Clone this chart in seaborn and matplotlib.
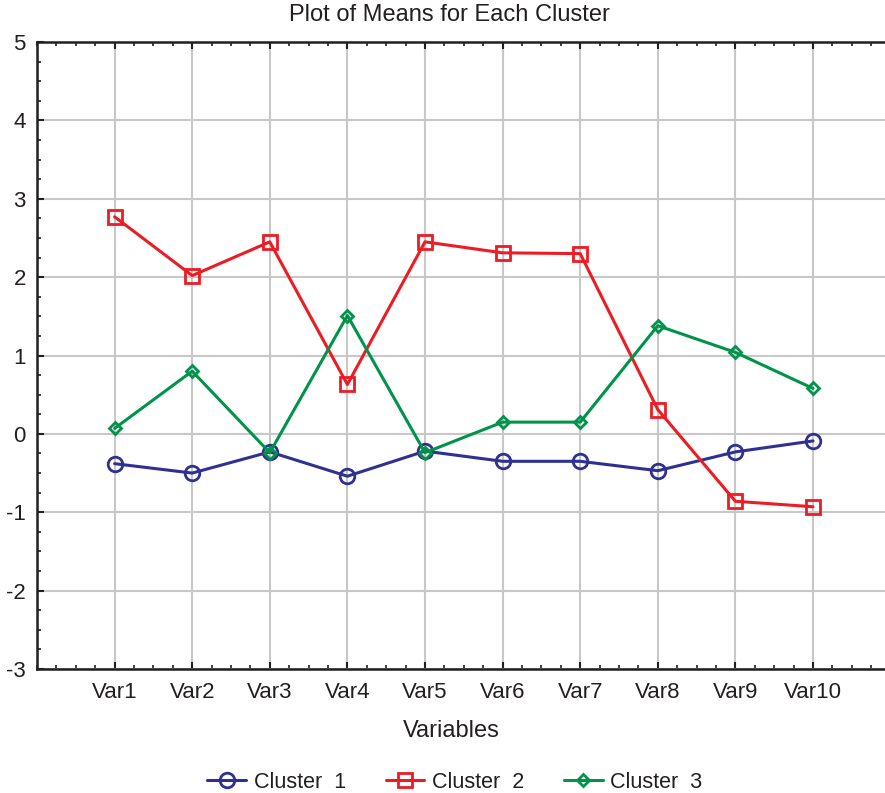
import matplotlib
matplotlib.use("Agg")
import matplotlib.pyplot as plt
from matplotlib.ticker import MultipleLocator
import seaborn as sns

variables = ["Var1", "Var2", "Var3", "Var4", "Var5", "Var6", "Var7", "Var8", "Var9", "Var10"]
cluster1 = [-0.38, -0.50, -0.23, -0.54, -0.22, -0.35, -0.35, -0.47, -0.23, -0.09]
cluster2 = [2.77, 2.02, 2.45, 0.63, 2.45, 2.31, 2.30, 0.31, -0.86, -0.93]
cluster3 = [0.07, 0.80, -0.24, 1.51, -0.24, 0.15, 0.15, 1.38, 1.04, 0.58]
cluster_names = ["Cluster  1", "Cluster  2", "Cluster  3"]
y_ticks = [-3, -2, -1, 0, 1, 2, 3, 4, 5]

sns.set_theme(style="white")
plt.rcParams["font.family"] = ["Liberation Sans", "DejaVu Sans"]

fig = plt.figure(figsize=(8.85, 7.93), dpi=100)
ax = fig.add_axes([37 / 885, 1 - 669 / 793, 853.6 / 885, (669 - 42) / 793])

series = [cluster1, cluster2, cluster3]
colors = ["#2E3192", "#ED1C24", "#00934A"]
markers = ["o", "s", "D"]
msizes = [10.5, 10, 6.5]

for vals, name, col, mk, ms in zip(series, cluster_names, colors, markers, msizes):
    sns.lineplot(x=variables, y=vals, ax=ax, color=col, marker=mk,
                 markersize=ms, markerfacecolor="none", markeredgecolor=col,
                 markeredgewidth=2, linewidth=2.2, label=name, zorder=3)

ax.set_xlim(-1, 10)
ax.set_ylim(-3, 5)
ax.yaxis.set_minor_locator(MultipleLocator(0.25))
ax.xaxis.set_minor_locator(MultipleLocator(0.25))
ax.set_yticks(y_ticks)
ax.set_yticklabels([str(v) for v in y_ticks])

ax.grid(True, which="major", color="#C8C8C8", linewidth=1.5, zorder=0)
ax.set_axisbelow(True)

for side in ["left", "bottom", "top"]:
    ax.spines[side].set_visible(True)
    ax.spines[side].set_color("#231F20")
    ax.spines[side].set_linewidth(1.8)
ax.spines["right"].set_visible(False)

ax.tick_params(axis="both", which="both", direction="in", colors="#231F20",
               labelcolor="#231F20", labelsize=16)
ax.tick_params(axis="x", which="both", top=True, bottom=True, pad=9)
ax.tick_params(axis="y", which="both", left=True, right=False, pad=8)
ax.tick_params(which="major", length=5, width=1.5)
ax.tick_params(which="minor", length=3, width=1.2)

ax.set_xlabel("")
ax.set_ylabel("")
# Title and axis label are centred on the visible plot region
fig.text(449 / 885, 1 - 15 / 793, "Plot of Means for Each Cluster", fontsize=17,
         color="#231F20", ha="center", va="center")
fig.text(451 / 885, 1 - 731 / 793, "Variables", fontsize=17,
         color="#231F20", ha="center", va="center")

ax.legend(loc="center", bbox_to_anchor=(455 / 885, 1 - 782 / 793),
          bbox_transform=fig.transFigure, ncol=3, frameon=False,
          fontsize=15.5, handlelength=1.8, columnspacing=1.85, handletextpad=0.35,
          labelcolor="#231F20")

fig.savefig("out.png", dpi=100)
